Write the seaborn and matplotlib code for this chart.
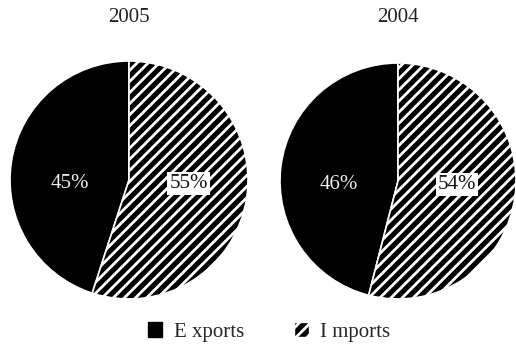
import matplotlib
matplotlib.use("Agg")
import matplotlib.pyplot as plt
from matplotlib.patches import Patch
import seaborn as sns

years = ["2005", "2004"]
categories = ["E xports", "I mports"]
exports_pct = [45, 46]
imports_pct = [55, 54]

sns.set_theme(style="white")
plt.rcParams["font.family"] = ["Liberation Serif", "DejaVu Serif"]
plt.rcParams["hatch.linewidth"] = 2.0
plt.rcParams["hatch.color"] = "white"

fig = plt.figure(figsize=(5.16, 3.53), dpi=100)
fig.patch.set_facecolor("white")

W, H = 516, 353
pies = [(129, 180, 119), (398, 181, 118)]

for i, (cx, cy, r) in enumerate(pies):
    ax = fig.add_axes([(cx - r) / W, (H - cy - r) / H, 2 * r / W, 2 * r / H])
    vals = [exports_pct[i], imports_pct[i]]
    wedges, _ = ax.pie(vals, startangle=90, counterclock=True, radius=1,
                       colors=["black", "black"],
                       wedgeprops=dict(edgecolor="white", linewidth=1.2))
    wedges[1].set_hatch("///")
    ax.set_xlim(-1, 1)
    ax.set_ylim(-1, 1)
    ax.set_aspect("equal")
    ax.axis("off")
    ax.text(-0.5, -0.03, f"{vals[0]}%", color="#eeeeee", fontsize=15,
            ha="center", va="center")
    ax.text(0.5, -0.03, f"{vals[1]}%", color="#111111", fontsize=15,
            ha="center", va="center",
            bbox=dict(boxstyle="square,pad=0.1", facecolor="white", edgecolor="none"))
    fig.text(cx / W, 1 - 17 / H, years[i], fontsize=15, ha="center", va="center",
             color="#222222")

handles = [Patch(facecolor="black", edgecolor="black"),
           Patch(facecolor="black", edgecolor="white", hatch="///")]
fig.legend(handles, categories, loc="center", bbox_to_anchor=(269 / W, 1 - 332 / H),
           ncol=2, frameon=False, fontsize=15, handlelength=0.7, handleheight=0.7,
           handletextpad=0.55, columnspacing=2.4)

fig.savefig("out.png", dpi=100, facecolor="white")
